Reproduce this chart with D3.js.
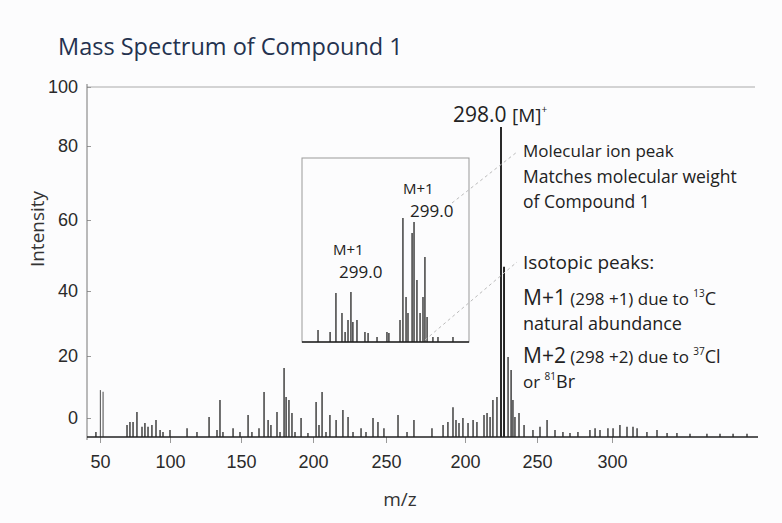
<!DOCTYPE html>
<html>
<head>
<meta charset="utf-8">
<script src="https://cdn.jsdelivr.net/npm/d3@7"></script>
<style>
  body { margin: 0; background: #fcfcfd; }
  svg { display: block; font-family: "Open Sans", sans-serif; }
  .tick text { fill: #2a2a2a; }
  .tick line { stroke: #999; }
  .note { fill: #222; font-size: 17px; }
</style>
</head>
<body>
<svg id="chart" width="782" height="523"></svg>
<script>
// axis ticks (the chart's own odd x labels are kept as printed)
const xTickPos = [50, 100, 150, 200, 250, 300, 350, 400];
const xTickLabels = ['50', '100', '150', '200', '250', '200', '250', '300'];
const yTicks = [0, 20, 40, 60, 80, 100];

// main spectrum: m/z position and intensity of each line
const peakMz = [47.1, 50.3, 52.2, 69.3, 71.4, 73.6, 76.4, 80, 82.1, 84.3, 87.1, 90, 92.9, 95, 100,
  112, 119, 127.5, 133.1, 135.2, 137.3, 144.4, 149.3, 154.9, 157.6, 162.5, 166, 168.8, 170.8,
  175, 177.1, 179.9, 181.3, 183.3, 185.4, 187.5, 191.7, 196.5, 202.1, 204.1, 206.2, 208.9,
  211.6, 215.8, 220.5, 224, 227.4, 232.9, 236.3, 241.1, 244.5, 248.6, 257.6, 263.3, 267.7,
  279.1, 286.1, 289.2, 292.4, 294.3, 296.2, 298.7, 302.1, 305.6, 308.3, 313.2, 315.3, 317.4,
  319.4, 322.2, 325, 327.1, 329.9, 332, 333.3, 334.7, 337.5, 341, 347.2, 352, 356.7, 362,
  367.3, 372, 377.3, 385.3, 388.7, 392, 397.3, 400.7, 405.3, 410, 414, 416.7, 423.3, 430,
  436.7, 443.3, 452, 463.3, 472, 480.7, 490];
const peakInt = [-4.4, 9.0, 8.5, -2.2, -1.3, -1.3, 1.9, -2.8, -1.6, -2.8, -2.2, -0.6, -3.8, -4.4, -3.8,
  -3.2, -4.4, 0.3, -3.8, 5.8, -4.4, -3.2, -4.4, 1.0, -4.4, -3.2, 8.4, -0.6, -2.2,
  1.9, -4.4, 16.1, 6.8, 5.8, 1.6, -4.4, 0, -4.7, 5.2, -2.2, 8.4, -4.4,
  1.0, -0.6, 2.6, 0.3, -4.4, -3.2, -4.4, 0, -1.3, -3.2, 1.0, -4.4, -0.6,
  -3.2, -2.2, -1.3, 3.5, -0.6, -1.6, 0, -1.6, -0.6, -1.3, 1.0, 1.6, 0.3,
  5.8, 6.8, 86.4, 46.8, 19.7, 15.5, 5.8, 0.3, 1.6, -2.2, -3.8, -2.8, -0.6, -3.8,
  -4.4, -4.7, -4.4, -3.8, -3.2, -3.8, -3.2, -3.2, -2.2, -2.8, -2.8, -3.2, -4.4, -3.8,
  -4.7, -4.7, -5.0, -5.0, -5.0, -5.0, -5.0];

// inset (zoom on the molecular ion region), relative position and intensity
const insetPos = [8.6, 16, 19.6, 23.3, 25.2, 27, 28.8, 30, 32.5, 37.4, 39.3, 44.8, 50.9, 52.1,
  58.9, 60.7, 62.6, 63.8, 66.3, 67.5, 69.3, 71.2, 73, 74.2, 75.5, 79.1, 82.2, 91.4];
const insetInt = [6.5, 5.4, 26.6, 15.8, 5.4, 12, 27.2, 10.9, 12, 5.4, 4.9, 2.7, 5.4, 4.9,
  12, 67.4, 24.5, 15.8, 59.2, 65.2, 33.7, 15.8, 24.5, 46.2, 13.6, 2.7, 2.7, 2.7];

const svg = d3.select('#chart');

const x = d3.scaleLinear()
  .domain(xTickPos)
  .range([100, 170, 241, 313, 386, 465, 537, 612]);

// the printed "0" sits above the floor of the axis
const y = d3.scaleLinear()
  .domain([-6, 0, 20, 40, 60, 80, 100])
  .range([437, 418, 356, 291, 220, 146, 87]);

const left = 87;
const right = 758;
const floor = y(-6);

svg.append('text')
  .attr('x', 58)
  .attr('y', 55)
  .attr('fill', '#24324f')
  .style('font-size', '23.5px')
  .text('Mass Spectrum of Compound 1');

// top line at 100
svg.append('line')
  .attr('x1', left).attr('x2', 755)
  .attr('y1', y(100)).attr('y2', y(100))
  .attr('stroke', '#aaa')
  .attr('stroke-width', 1);

// y axis
const yAxis = svg.append('g')
  .attr('transform', `translate(${left},0)`)
  .call(d3.axisLeft(y).tickValues(yTicks).tickSize(-4).tickPadding(9));
yAxis.select('.domain').remove();
yAxis.selectAll('.tick text').style('font-size', '18px');

svg.append('line')
  .attr('x1', left).attr('x2', left)
  .attr('y1', y(100) - 3).attr('y2', floor + 3)
  .attr('stroke', '#777');

svg.append('text')
  .attr('transform', `translate(44,229) rotate(-90)`)
  .attr('text-anchor', 'middle')
  .attr('fill', '#333')
  .style('font-size', '19px')
  .text('Intensity');

// x axis
const xAxis = svg.append('g')
  .attr('transform', `translate(0,${floor})`)
  .call(d3.axisBottom(x).tickValues(xTickPos)
    .tickFormat((d, i) => xTickLabels[i]).tickSize(6).tickPadding(12));
xAxis.select('.domain').remove();
xAxis.selectAll('.tick text').style('font-size', '18px');

svg.append('text')
  .attr('x', 400)
  .attr('y', 506)
  .attr('text-anchor', 'middle')
  .attr('fill', '#333')
  .style('font-size', '19px')
  .text('m/z');

// spectrum lines
const peaks = peakMz.map((m, i) => ({ m, v: peakInt[i] }));
svg.append('g')
  .selectAll('line')
  .data(peaks)
  .enter()
  .append('line')
  .attr('x1', d => x(d.m))
  .attr('x2', d => x(d.m))
  .attr('y1', floor)
  .attr('y2', d => y(d.v))
  .attr('stroke', d => (d.m > 48 && d.m < 53 ? '#666' : '#111'))
  .attr('stroke-width', d => (d.v > 30 ? 1.8 : 1.2));

svg.append('line')
  .attr('x1', left).attr('x2', right)
  .attr('y1', floor).attr('y2', floor)
  .attr('stroke', '#222')
  .attr('stroke-width', 1.6);

// inset box
const ix = d3.scaleLinear().domain([0, 100]).range([304, 467]);
const iy = d3.scaleLinear().domain([0, 100]).range([342, 158]);

svg.append('rect')
  .attr('x', 302).attr('y', iy(100))
  .attr('width', 167).attr('height', iy(0) - iy(100))
  .attr('fill', '#fcfcfd')
  .attr('stroke', '#999');

const inset = insetPos.map((p, i) => ({ p, v: insetInt[i] }));
svg.append('g')
  .selectAll('line')
  .data(inset)
  .enter()
  .append('line')
  .attr('x1', d => ix(d.p))
  .attr('x2', d => ix(d.p))
  .attr('y1', iy(0))
  .attr('y2', d => iy(d.v))
  .attr('stroke', '#111')
  .attr('stroke-width', 1.2);

svg.append('line')
  .attr('x1', 302).attr('x2', 469)
  .attr('y1', iy(0)).attr('y2', iy(0))
  .attr('stroke', '#222')
  .attr('stroke-width', 1.6);

const insetLabels = [
  { t: 'M+1', x: 403, y: 194, s: 15 },
  { t: '299.0', x: 410, y: 217, s: 17 },
  { t: 'M+1', x: 333, y: 255, s: 15 },
  { t: '299.0', x: 339, y: 278, s: 17 }
];
svg.append('g')
  .selectAll('text')
  .data(insetLabels)
  .enter()
  .append('text')
  .attr('x', d => d.x)
  .attr('y', d => d.y)
  .attr('fill', '#222')
  .style('font-size', d => `${d.s}px`)
  .text(d => d.t);

// dashed leader lines
const leaders = [[452, 203, 517, 152], [425, 340, 517, 262]];
svg.append('g')
  .selectAll('line')
  .data(leaders)
  .enter()
  .append('line')
  .attr('x1', d => d[0]).attr('y1', d => d[1])
  .attr('x2', d => d[2]).attr('y2', d => d[3])
  .attr('stroke', '#bbb')
  .attr('stroke-dasharray', '3,3');

// annotations
const peakLabel = svg.append('text')
  .attr('x', 453)
  .attr('y', 122)
  .attr('fill', '#222');
peakLabel.append('tspan').style('font-size', '21px').text('298.0 ');
peakLabel.append('tspan').style('font-size', '19px').text('[M]');
peakLabel.append('tspan').style('font-size', '10px').attr('dy', -9).text('+');

const notes = [
  { t: 'Molecular ion peak', y: 157, s: 17 },
  { t: 'Matches molecular weight', y: 183, s: 17.5 },
  { t: 'of Compound 1', y: 208, s: 17.5 },
  { t: 'Isotopic peaks:', y: 269, s: 19 },
  { t: 'natural abundance', y: 330, s: 18 }
];
svg.append('g')
  .selectAll('text')
  .data(notes)
  .enter()
  .append('text')
  .attr('class', 'note')
  .attr('x', 523)
  .attr('y', d => d.y)
  .style('font-size', d => `${d.s}px`)
  .text(d => d.t);

function isotopeLine(yPos, head, mid, sup, tail) {
  const t = svg.append('text')
    .attr('x', 523)
    .attr('y', yPos)
    .attr('fill', '#222');
  t.append('tspan').style('font-size', '21px').text(head);
  t.append('tspan').style('font-size', '17px').text(mid);
  t.append('tspan').style('font-size', '10px').attr('dy', -8).text(sup);
  t.append('tspan').style('font-size', '18px').attr('dy', 8).text(tail);
}
isotopeLine(305, 'M+1', ' (298 +1) due to ', '13', 'C');
isotopeLine(363, 'M+2', ' (298 +2) due to ', '37', 'Cl');

const orLine = svg.append('text')
  .attr('x', 523)
  .attr('y', 388)
  .attr('fill', '#222');
orLine.append('tspan').style('font-size', '17px').text('or ');
orLine.append('tspan').style('font-size', '10px').attr('dy', -8).text('81');
orLine.append('tspan').style('font-size', '18px').attr('dy', 8).text('Br');
</script>
</body>
</html>
